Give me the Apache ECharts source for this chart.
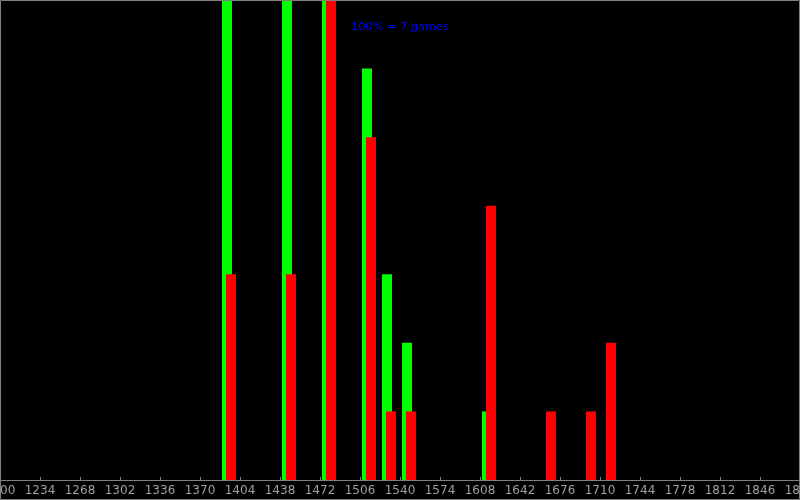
<!DOCTYPE html>
<html>
<head>
<meta charset="utf-8">
<script src="https://cdn.jsdelivr.net/npm/echarts@6/dist/echarts.min.js"></script>
<style>
html,body{margin:0;padding:0;background:#000;}
#chart{width:800px;height:500px;}
</style>
</head>
<body>
<div id="chart"></div>
<script>
// Bin start (rating) and number of games
const greenBins = [1387, 1438, 1472, 1506, 1523, 1540, 1608];
const greenCounts = [7, 7, 7, 6, 3, 2, 1];
const redBins = [1387, 1438, 1472, 1506, 1523, 1540, 1608, 1659, 1693, 1710];
const redCounts = [3, 3, 7, 5, 1, 1, 4, 1, 1, 2];
const axisMin = 1200, axisMax = 1880, axisStep = 34;
const fullScale = 7; // 100% = 7 games
const caption = '100% = 7 games';

const chart = echarts.init(document.getElementById('chart'));

function makeRender(offset, width, color) {
  return function (params, api) {
    const x = api.value(0), y = api.value(1);
    const p0 = api.coord([x, 0]);
    const p1 = api.coord([x, y]);
    return {
      type: 'rect',
      shape: { x: p0[0] + offset, y: p1[1], width: width, height: p0[1] - p1[1] },
      style: { fill: color }
    };
  };
}

chart.setOption({
  backgroundColor: '#000000',
  animation: false,
  title: {
    text: caption,
    left: 346, top: 17,
    textStyle: { color: '#0000ff', fontSize: 11.3, fontWeight: 'normal', fontFamily: 'DejaVu Sans' }
  },
  grid: { left: 0, right: 0, top: 0, bottom: 20, containLabel: false, outerBoundsMode: 'none' },
  xAxis: {
    type: 'value', min: axisMin, max: axisMax, interval: axisStep,
    splitLine: { show: false },
    axisLine: { show: true, onZero: false, lineStyle: { color: '#808080', width: 1 } },
    axisTick: { show: true, inside: true, length: 3, lineStyle: { color: '#808080' } },
    axisLabel: { color: '#a0a0a0', fontSize: 12, fontFamily: 'DejaVu Sans', margin: 5,
                 showMinLabel: true, showMaxLabel: true, hideOverlap: false,
                 formatter: v => String(v) }
  },
  yAxis: { type: 'value', min: 0, max: fullScale, show: false, splitLine: { show: false } },
  series: [
    { type: 'custom', clip: true, renderItem: makeRender(2, 10, '#00ff00'),
      data: greenBins.map((b, i) => [b, greenCounts[i]]), z: 2 },
    { type: 'custom', clip: true, renderItem: makeRender(6, 10, '#ff0000'),
      data: redBins.map((b, i) => [b, redCounts[i]]), z: 3 }
  ],
  graphic: [{
    type: 'rect', z: 100, silent: true,
    shape: { x: 0.5, y: 0.5, width: 799, height: 499 },
    style: { fill: null, stroke: '#808080', lineWidth: 1 }
  }]
});
</script>
</body>
</html>
